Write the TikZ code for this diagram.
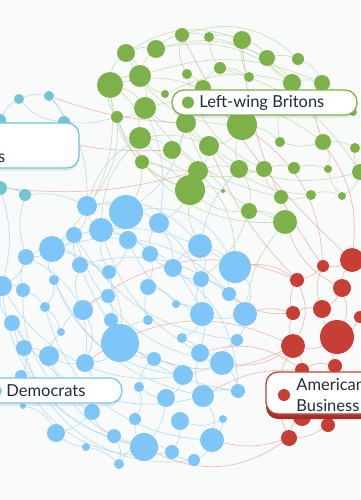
\documentclass[tikz,border=0pt]{standalone}
\usepackage{fontspec}
\setmainfont{Lato}
\usetikzlibrary{positioning,shadows}

\definecolor{gcol}{RGB}{125,178,74}
\definecolor{bcol}{RGB}{125,198,247}
\definecolor{rcol}{RGB}{199,63,52}
\definecolor{tcol}{RGB}{112,198,212}
\definecolor{rdark}{RGB}{168,42,34}
\definecolor{txtcol}{RGB}{30,44,60}
\definecolor{bgcol}{RGB}{249,251,251}
\definecolor{gline}{RGB}{190,216,168}
\definecolor{bline}{RGB}{172,212,240}
\definecolor{rline}{RGB}{234,168,162}

\pgfdeclarelayer{back}
\pgfdeclarelayer{links}
\pgfsetlayers{back,links,main}

\tikzset{
  dot/.style={circle, inner sep=0pt, draw=none},
  gdot/.style={dot, fill=gcol},
  bdot/.style={dot, fill=bcol},
  rdot/.style={dot, fill=rcol},
  tdot/.style={dot, fill=tcol},
  link/.style={line width=0.7pt, opacity=0.75},
  glink/.style={link, draw=gline},
  blink/.style={link, draw=bline},
  rlink/.style={link, draw=rline},
  lbox/.style={rectangle, rounded corners=12pt, fill=white, line width=1.3pt,
    drop shadow={shadow xshift=0pt, shadow yshift=-3pt, opacity=0.15}},
  ltext/.style={inner sep=0pt, text=txtcol, font=\fontsize{16.5}{21.5}\selectfont}
}

\begin{document}
\begin{tikzpicture}[x=1pt, y=-1pt]
  \useasboundingbox (0,0) rectangle (360,500);
  \begin{pgfonlayer}{back}
    \fill[bgcol] (0,0) rectangle (360,500);
  \end{pgfonlayer}

  % Left-wing Britons
  \foreach \n/\x/\y/\r in {1/126/53/9, 2/156/49/9, 3/110/85/13, 4/140/76/11, 5/165/94/4,
      6/145/108/11, 7/117/117/6, 8/182/35/7, 9/209/37/5, 10/242/40/9, 11/267/58/8,
      12/298/59/6, 13/220/68/6, 14/187/74/5, 15/249/77/5, 16/292/83/9, 17/322/83/8,
      18/203/88/8, 19/353/112/4, 20/186/123/10, 21/242/125/15, 22/209/146/10,
      23/280/142/5, 24/323/142/8, 25/355/148/5, 26/140/138/11, 27/172/150/9,
      28/142/162/7, 29/198/171/10, 30/239/169/9, 31/264/169/8, 32/294/168/6,
      33/328/169/4, 34/360/172/8, 35/190/190/15, 36/223/191/2, 37/281/197/7,
      38/311/195/5, 39/342/196/4, 40/249/211/8, 41/285/222/12}
    \node[gdot, minimum size={2*\r pt}] (g\n) at (\x,\y) {};

  % populists (teal)
  \foreach \n/\x/\y/\r in {1/19/99/5, 2/49/96/5, 3/64/122/6, 4/0/120/6, 5/0/188/7, 6/25/195/6}
    \node[tdot, minimum size={2*\r pt}] (t\n) at (\x,\y) {};

  % Democrats
  \foreach \n/\x/\y/\r in {1/87/206/10, 2/126/212/17, 3/159/223/10, 4/101/230/12,
      5/74/235/8, 6/128/240/9, 7/52/249/13, 8/150/254/8, 9/26/257/8, 10/80/265/8,
      11/109/272/7, 12/173/268/9, 13/200/246/12, 14/235/267/16, 15/2/286/10,
      16/23/290/7, 17/54/280/5, 18/108/296/7, 19/148/287/8, 20/201/279/8,
      21/229/294/7, 22/45/307/5, 23/83/310/10, 24/176/304/4, 25/202/314/12,
      26/245/314/12, 27/12/323/8, 28/61/332/4, 29/111/320/7, 30/148/320/5,
      31/120/343/19, 32/182/338/5, 33/237/340/6, 34/24/348/8, 35/49/356/10,
      36/85/363/9, 37/154/359/7, 38/200/353/9, 39/222/363/12, 40/183/375/10,
      41/21/376/6, 42/139/387/5, 43/166/398/9, 44/238/391/7, 45/203/396/11,
      46/92/412/8, 47/23/406/3, 48/135/419/6, 49/180/421/9, 50/223/419/4,
      51/56/433/9, 52/114/436/7, 53/144/447/14, 54/86/447/4, 55/172/452/7,
      56/212/440/12, 57/119/464/5, 58/194/460/6}
    \node[bdot, minimum size={2*\r pt}] (b\n) at (\x,\y) {};

  % American Business
  \foreach \n/\x/\y/\r in {1/352/260/12, 2/323/266/6, 3/297/280/7, 4/342/288/9,
      5/293/313/7, 6/322/309/9, 7/360/317/6, 8/337/337/17, 9/293/346/12,
      10/335/366/7, 11/302/370/7, 12/302/417/9, 13/328/425/7, 14/289/438/8}
    \node[rdot, minimum size={2*\r pt}] (r\n) at (\x,\y) {};

  \begin{pgfonlayer}{links}
    \foreach \a/\b/\c in {b1/b2/15, b1/b4/-20, b1/b5/20, b2/b3/15, b2/b6/-15, b2/b4/20,
        b3/b12/15, b3/b8/-20, b4/b6/15, b4/b11/-15, b5/b7/20, b5/b10/-15, b6/b8/15,
        b6/b11/20, b7/b9/15, b7/b17/-20, b7/b10/25, b8/b12/-15, b8/b19/15, b9/b15/20,
        b9/b16/-15, b10/b11/15, b10/b23/-20, b11/b18/20, b12/b13/15, b12/b20/-20,
        b13/b14/15, b13/b20/20, b14/b21/-15, b14/b26/30, b15/b16/20, b15/b27/-25,
        b16/b22/15, b17/b22/20, b18/b23/-15, b18/b29/15, b19/b24/20, b19/b30/-15,
        b20/b21/15, b20/b25/-20, b21/b26/15, b22/b28/15, b23/b28/-20, b23/b36/25,
        b24/b25/15, b25/b32/20, b25/b26/-15, b26/b33/15, b27/b34/20, b28/b35/-15,
        b29/b31/15, b30/b31/-20, b31/b36/20, b31/b37/-15, b32/b38/15, b33/b39/-20,
        b34/b35/15, b34/b41/20, b35/b36/-15, b36/b46/20, b37/b40/15, b37/b42/-20,
        b38/b39/15, b38/b45/-20, b39/b44/15, b40/b43/20, b41/b47/15, b42/b43/-15,
        b42/b48/20, b43/b53/15, b44/b45/-15, b45/b56/20, b46/b51/15, b46/b52/-20,
        b47/b51/25, b48/b53/-15, b49/b55/15, b49/b50/-20, b50/b56/15, b51/b54/-15,
        b52/b57/20, b53/b55/15, b53/b57/-20, b54/b57/15, b55/b58/-15, b56/b58/20,
        b7/b31/40, b9/b36/35, b1/b13/30, b2/b14/35, b5/b39/-30, b15/b53/-35,
        b4/b25/25, b16/b46/-30, b17/b45/-25, b22/b56/-35, b3/b38/30, b10/b44/-30,
        b27/b53/-30, b2/g20/-20, b1/g26/20, b13/g30/15, b3/g35/-15, t6/b9/-15,
        t6/b1/15, t5/b15/15, t1/t2/15, t1/t4/-15, t2/t3/15, t1/t3/-20, t5/t6/15,
        t3/g7/-10, t2/b1/20, g6/b3/15, b9/b14/30, b15/b39/-40, b7/b26/35,
        b27/b45/-35, b34/b58/-40, b5/b33/-25, b17/b40/-30, b12/b44/25,
        b4/b38/-20, b10/b21/25, b41/b55/-35, b35/b53/-25, b6/b25/-20}
      \draw[blink] (\a) to[bend left=\c] (\b);
    \foreach \a/\b/\c in {g1/g2/15, g1/g3/-20, g1/g4/15, g2/g8/15, g2/g4/-15, g3/g4/15,
        g3/g7/-20, g3/g6/20, g4/g6/15, g4/g5/-15, g6/g7/15, g6/g20/-20, g8/g9/15,
        g8/g14/-20, g9/g10/15, g9/g13/-15, g10/g11/20, g10/g15/-15, g11/g12/15,
        g11/g16/-15, g12/g17/20, g13/g15/15, g13/g18/-20, g14/g18/15, g16/g17/15,
        g16/g23/-20, g17/g19/15, g17/g24/-20, g18/g21/15, g20/g22/-15, g20/g27/15,
        g21/g22/20, g21/g30/-15, g21/g23/15, g22/g29/15, g23/g24/-15, g24/g25/15,
        g24/g33/20, g25/g34/-15, g26/g27/15, g26/g28/-20, g27/g29/15, g28/g35/20,
        g29/g35/-15, g29/g30/15, g30/g31/-15, g30/g40/20, g31/g32/15, g31/g37/-20,
        g32/g33/15, g33/g39/-15, g34/g39/20, g35/g36/15, g35/g40/-20, g37/g41/15,
        g37/g38/-15, g38/g39/20, g40/g41/15, g3/g21/30, g1/g10/25, g26/g31/-30,
        g7/g35/-25, g4/g17/20, g6/g24/25, g20/g34/-30, g28/g41/-25, g8/g12/30,
        g22/g38/-20, g5/g16/20, g26/g22/15, g3/g26/25, g28/b2/15, g35/b13/-15,
        g7/b1/20, g29/b14/20, g41/b26/-15, g26/b4/-20, g3/b7/25, g40/b20/15,
        g1/g21/-30, g2/g16/25, g3/g35/-30, g6/g37/-20, g9/g24/30, g14/g31/-25,
        g7/g29/-35, g13/g34/20, g20/g41/-25, g2/g11/20}
      \draw[glink] (\a) to[bend left=\c] (\b);
    \foreach \a/\b/\c in {r1/r2/15, r1/r4/-15, r2/r3/15, r3/r5/-20, r4/r6/15, r4/r8/20,
        r5/r6/15, r5/r9/-15, r6/r8/-15, r7/r8/15, r8/r9/20, r8/r10/-15, r9/r11/15,
        r10/r11/-20, r11/r12/15, r12/r13/15, r12/r14/-20, r13/r14/15, r9/r14/-25,
        r10/r13/20, r3/r9/25, r2/r6/-20, r3/b14/-20, r5/b26/-15, r9/b39/20,
        r11/b45/-15, r14/b56/15, r9/b31/25, r1/g24/-20, r2/g21/-25, r4/g41/20,
        r5/b21/20, r14/b53/30, r11/b38/-25, r3/b23/-30, r9/b36/-30, g8/r1/-10,
        g10/r2/-15, g22/r3/-10, t2/g20/-8, t4/g27/-12, t5/g29/-10}
      \draw[rlink] (\a) to[bend left=\c] (\b);
  \end{pgfonlayer}

  % labels
  \node[lbox, draw=tcol, minimum width=180pt, minimum height=45pt] (popsbox) at (-11,145.5) {};
  \node[ltext, anchor=base east] (popstext) at (5.5,162) {s};

  \node[lbox, draw=gcol, minimum width=185pt, minimum height=25pt] (lwbbox) at (264.5,102.5) {};
  \node[gdot, minimum size=12pt] (lwbdot) at (188,102.5) {};
  \node[ltext, right=5pt of lwbdot] (lwbtext) {Left-wing Britons};

  \node[lbox, draw=bcol, minimum width=202pt, minimum height=25pt] (demobox) at (21,390.5) {};
  \node[bdot, minimum size=10pt] (demodot) at (-3,391) {};
  \node[ltext, right=4pt of demodot] (demotext) {Democrats};

  \node[rectangle, rounded corners=12pt, fill=rdark, minimum width=160pt, minimum height=42pt] (amshade) at (346,398) {};
  \node[lbox, draw=rcol, minimum width=160pt, minimum height=42pt] (ambox) at (346,393) {};
  \node[rdot, minimum size=12pt] (amdot) at (284,395) {};
  \node[ltext, align=left, right=6pt of amdot] (amtext) {American\\Business};
\end{tikzpicture}
\end{document}
